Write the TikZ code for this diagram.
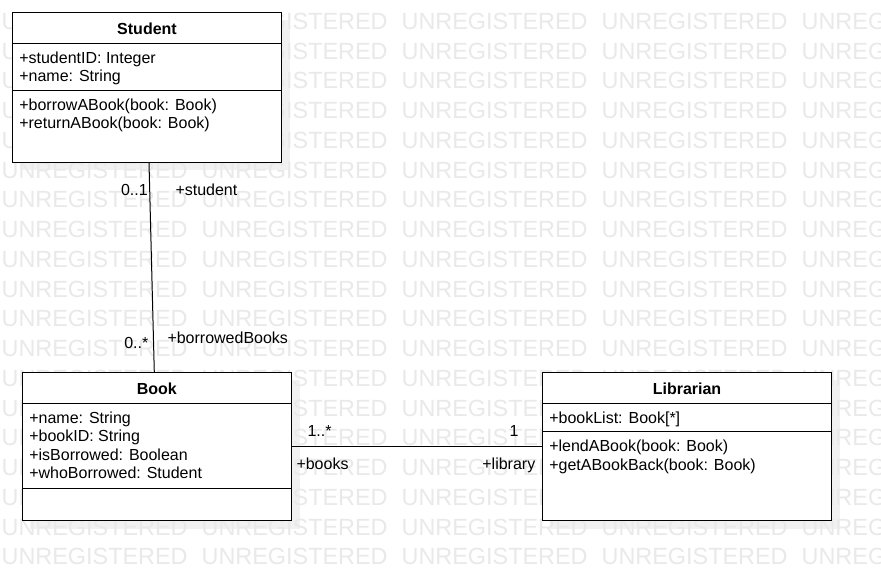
\documentclass[tikz,border=0pt]{standalone}
\usepackage{fontspec}
\setmainfont{Liberation Sans}
\usetikzlibrary{calc}
\definecolor{wmc}{gray}{0.915}
\definecolor{shadowc}{gray}{0.945}
\begin{document}
\begin{tikzpicture}[x=1pt,y=-1pt,
  classbox/.style={draw=black, line width=1.2pt, fill=white, inner sep=0pt, outer sep=0pt, anchor=north west},
  divline/.style={draw=black, line width=1pt},
  txt/.style={inner sep=0pt, outer sep=0pt, anchor=base west, font=\fontsize{16}{18}\selectfont, text=black},
  txtr/.style={txt, anchor=base east},
  ttl/.style={inner sep=0pt, outer sep=0pt, anchor=base, font=\fontsize{16}{18}\selectfont\bfseries, text=black},
  wmtxt/.style={inner sep=0pt, outer sep=0pt, anchor=base west, font=\fontsize{23.4}{24}\selectfont, text=wmc},
  assoc/.style={draw=black, line width=1pt},
  shadowbox/.style={fill=shadowc, draw=none}]
\useasboundingbox (0,0) rectangle (881,571);
\clip (0,0) rectangle (881,571);
\fill[white] (0,0) rectangle (881,571);
% shadows
\fill[shadowbox] (20,20) rectangle (289.5,170);
\fill[shadowbox] (30,380) rectangle (299.5,528.5);
\fill[shadowbox] (550,380) rectangle (839.5,528.5);
% watermark
\foreach \r in {0,...,18} {
  \foreach \c in {0,...,4} {
    \node[wmtxt] (wm-\r-\c) at ({1.7+200*\c},{29.3+29.76*\r}) {UNREGISTERED};
  }
}
% Student
\node[classbox, minimum width=269.4pt, minimum height=150pt] (student) at (12.3,12.3) {};
\draw[divline] ($(student.north west)+(0,31)$) -- ($(student.north east)+(0,31)$);
\draw[divline] ($(student.north west)+(0,78.4)$) -- ($(student.north east)+(0,78.4)$);
\node[ttl] (student-t) at ($(student.north)+(0,22)$) {Student};
\node[txt] (student-a1) at ($(student.north west)+(7,51)$) {+studentID: Integer};
\node[txt] (student-a2) at ($(student.north west)+(7,69)$) {+name: String};
\node[txt] (student-m1) at ($(student.north west)+(7,98.4)$) {+borrowABook(book: Book)};
\node[txt] (student-m2) at ($(student.north west)+(7,116.4)$) {+returnABook(book: Book)};
% Book
\node[classbox, minimum width=269pt, minimum height=148.4pt] (book) at (22.3,372.3) {};
\draw[divline] ($(book.north west)+(0,31)$) -- ($(book.north east)+(0,31)$);
\draw[divline] ($(book.north west)+(0,116)$) -- ($(book.north east)+(0,116)$);
\node[ttl] (book-t) at ($(book.north)+(0,22)$) {Book};
\node[txt] (book-a1) at ($(book.north west)+(7,51)$) {+name: String};
\node[txt] (book-a2) at ($(book.north west)+(7,69.5)$) {+bookID: String};
\node[txt] (book-a3) at ($(book.north west)+(7,88)$) {+isBorrowed: Boolean};
\node[txt] (book-a4) at ($(book.north west)+(7,106.6)$) {+whoBorrowed: Student};
% Librarian
\node[classbox, minimum width=289.4pt, minimum height=148.4pt] (librarian) at (542.3,372.3) {};
\draw[divline] ($(librarian.north west)+(0,31)$) -- ($(librarian.north east)+(0,31)$);
\draw[divline] ($(librarian.north west)+(0,59.4)$) -- ($(librarian.north east)+(0,59.4)$);
\node[ttl] (librarian-t) at ($(librarian.north)+(0,22)$) {Librarian};
\node[txt] (librarian-a1) at ($(librarian.north west)+(7,51.2)$) {+bookList: Book[*]};
\node[txt] (librarian-m1) at ($(librarian.north west)+(7,79.4)$) {+lendABook(book: Book)};
\node[txt] (librarian-m2) at ($(librarian.north west)+(7,97.8)$) {+getABookBack(book: Book)};
% associations
\draw[assoc] ($(student.south west)+(136.7,0)$) coordinate (as1) -- ($(book.north west)+(132,0)$) coordinate (ab1);
\draw[assoc] (book.east |- 0,446) -- (librarian.west |- 0,446);
% association labels
\node[txtr] (m-s) at (147.7,195) {0..1};
\node[txt] (r-s) at (175.5,195) {+student};
\node[txtr] (m-b) at (148.3,348.3) {0..*};
\node[txt] (r-b) at (167.5,343.3) {+borrowedBooks};
\node[txt] (m-books) at (307.5,436) {1..*};
\node[txtr] (m-lib) at (518.5,436) {1};
\node[txt] (r-books) at (296.5,469.3) {+books};
\node[txtr] (r-lib) at (535.3,469.3) {+library};
\end{tikzpicture}
\end{document}
